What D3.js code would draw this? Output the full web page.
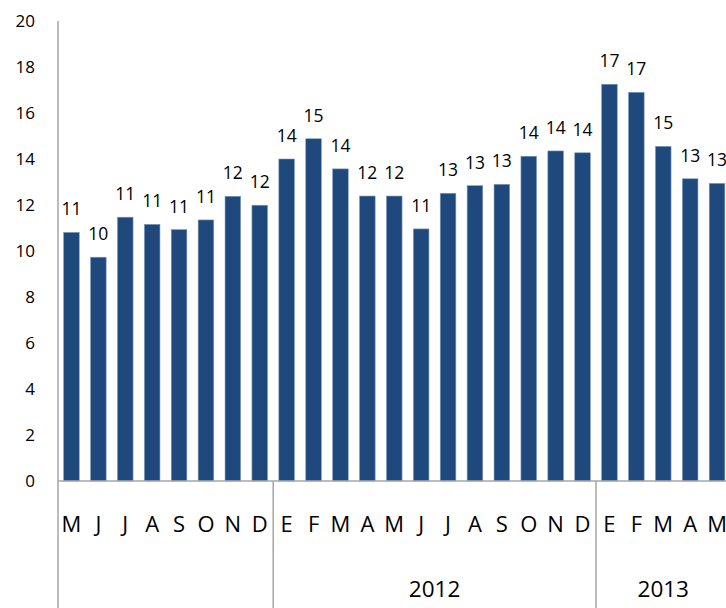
<!DOCTYPE html>
<html lang="en">
<head>
    <meta charset="UTF-8">
    <title>Barchart</title>
    <script src="https://d3js.org/d3.v7.min.js"></script>
    <style>
        body {margin: 0; background: #fff;}
        text {font-family: "Open Sans", sans-serif; fill: #000;}
    </style>
</head>
<body>
    <div id="chart"></div>
<script>
// Data
var months = ["M","J","J","A","S","O","N","D",
              "E","F","M","A","M","J","J","A","S","O","N","D",
              "E","F","M","A","M"];
var values = [10.81, 9.73, 11.47, 11.16, 10.93, 11.35, 12.38, 11.99,
              14.0, 14.88, 13.57, 12.39, 12.39, 10.96, 12.51, 12.84, 12.9, 14.12, 14.35, 14.27,
              17.25, 16.9, 14.55, 13.14, 12.94];
var labels = [11, 10, 11, 11, 11, 11, 12, 12,
              14, 15, 14, 12, 12, 11, 13, 13, 13, 14, 14, 14,
              17, 17, 15, 13, 13];
var years = ["", "2012", "2013"];
var yearCounts = [8, 12, 5];
var yTicks = [0, 2, 4, 6, 8, 10, 12, 14, 16, 18, 20];

var width = 726, height = 608;
var left = 58, step = 26.9;
var baseY = 481, topY = 21;
var axisColor = "#a6a6a6";

var svg = d3.select("#chart").append("svg")
    .attr("width", width)
    .attr("height", height);

// Scales
var xScale = d3.scaleBand()
    .domain(d3.range(months.length))
    .range([left, left + months.length * step])
    .paddingInner(0.42)
    .paddingOuter(0.21);

var yScale = d3.scaleLinear()
    .domain([0, 20])
    .range([baseY, topY]);

// Bars
svg.append("g").selectAll("rect")
    .data(values)
    .enter().append("rect")
        .attr("x", function(d, i){ return xScale(i); })
        .attr("y", function(d){ return yScale(d); })
        .attr("width", xScale.bandwidth())
        .attr("height", function(d){ return baseY - yScale(d); })
        .attr("fill", "#1f497d")
        .attr("stroke", "#7f9cc0")
        .attr("stroke-width", 0.6);

// Value labels
svg.append("g").selectAll("text")
    .data(values)
    .enter().append("text")
        .attr("x", function(d, i){ return xScale(i) + xScale.bandwidth() / 2; })
        .attr("y", function(d){ return yScale(d) - 17; })
        .attr("text-anchor", "middle")
        .attr("font-size", "17.5px")
        .text(function(d, i){ return labels[i]; });

// Y axis (labels only, line drawn below)
var yAxis = d3.axisLeft(yScale)
    .tickValues(yTicks)
    .tickSize(0)
    .tickPadding(0);

svg.append("g")
    .attr("transform", "translate(35,0)")
    .call(yAxis)
    .call(function(g){ g.select(".domain").remove(); })
    .selectAll("text")
        .attr("font-family", "Open Sans, sans-serif")
        .attr("font-size", "17px")
        .attr("fill", "#000");

// Month labels
var xAxis = d3.axisBottom(xScale)
    .tickSize(0)
    .tickFormat(function(i){ return months[i]; });

svg.append("g")
    .attr("transform", "translate(0," + baseY + ")")
    .call(xAxis)
    .call(function(g){ g.select(".domain").remove(); })
    .selectAll("text")
        .attr("y", 51)
        .attr("dy", 0)
        .attr("font-family", "Open Sans, sans-serif")
        .attr("font-size", "22px")
        .attr("fill", "#000");

// Year groups
var starts = [];
var acc = 0;
yearCounts.forEach(function(c){ starts.push(acc); acc += c; });

var groupX = d3.scaleLinear()
    .domain([0, months.length])
    .range([left, left + months.length * step]);

svg.append("g").selectAll("text")
    .data(years)
    .enter().append("text")
        .attr("x", function(d, i){ return groupX(starts[i] + yearCounts[i] / 2); })
        .attr("y", 597)
        .attr("text-anchor", "middle")
        .attr("font-size", "22.5px")
        .text(function(d){ return d; });

// Axis lines
svg.append("line")
    .attr("x1", left).attr("x2", left)
    .attr("y1", topY).attr("y2", height)
    .attr("stroke", axisColor).attr("stroke-width", 1.5);

svg.append("line")
    .attr("x1", left).attr("x2", width)
    .attr("y1", baseY).attr("y2", baseY)
    .attr("stroke", axisColor).attr("stroke-width", 1.5);

svg.append("g").selectAll("line")
    .data(starts.slice(1))
    .enter().append("line")
        .attr("x1", function(d){ return groupX(d); })
        .attr("x2", function(d){ return groupX(d); })
        .attr("y1", baseY).attr("y2", height)
        .attr("stroke", axisColor).attr("stroke-width", 1.5);
</script>
</body>
</html>
